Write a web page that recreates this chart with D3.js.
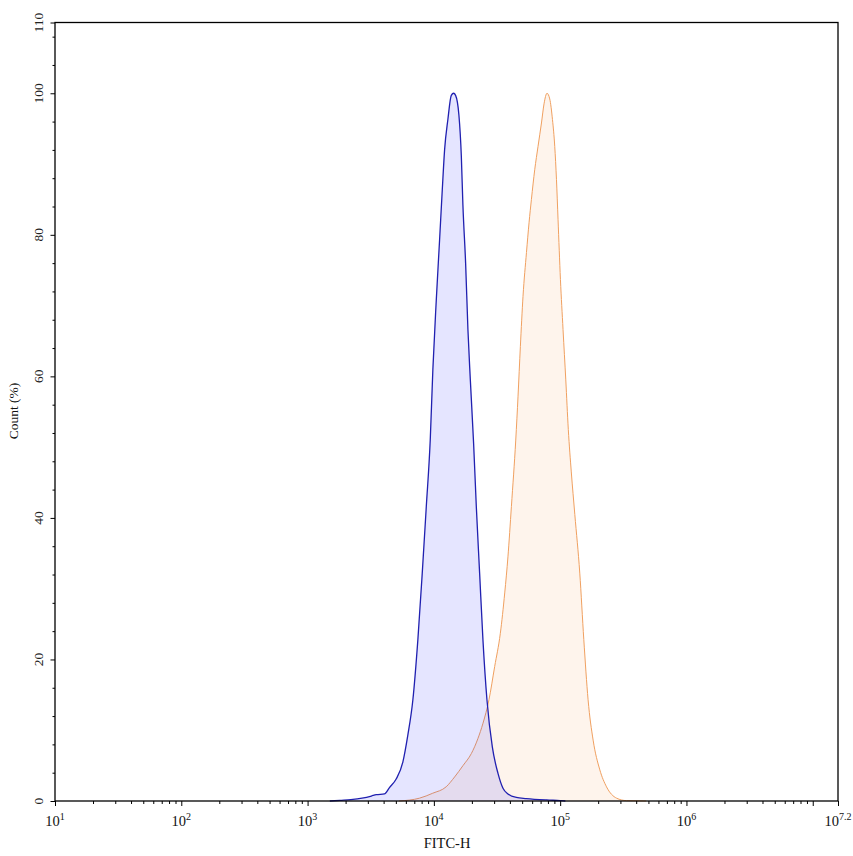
<!DOCTYPE html>
<html>
<head>
<meta charset="utf-8">
<script src="https://cdn.jsdelivr.net/npm/d3@7"></script>
<style>
  body { margin: 0; background: #fff; }
</style>
</head>
<body>
<div id="GRAPH_SVG"></div>
<script>
const WIDTH = 853;
const HEIGHT = 856;

const LEFT = 55;
const RIGHT = 838;
const TOP = 22.5;
const BOTTOM = 801;

// blue sample (FITC-H vs count %)
const blueFitc = [1500, 1800, 2200, 2700, 3200, 3500, 4060, 4450, 5030, 5680, 6220, 6820, 7470, 8090, 8710,
  9360, 9820, 10450, 11100, 11660, 12160, 12910, 13740, 14330, 14860, 15790, 16490, 16980, 17840, 18610,
  19440, 20640, 21680, 23030, 24460, 26320, 29050, 32190, 35260, 38630, 45000, 54000, 78000, 100000, 110000];
const blueCount = [0, 0.1, 0.2, 0.4, 0.7, 0.9, 1.0, 1.9, 3.1, 5.5, 9.3, 14.3, 22.8, 32.2, 41.6,
  51, 61, 70.8, 79.3, 86.4, 92, 96.3, 99.7, 100, 99.7, 96.9, 91.2, 84.2, 76, 66.6,
  59.5, 50.5, 41.6, 32.2, 22.8, 14.3, 7.6, 3.9, 1.8, 1.0, 0.5, 0.35, 0.15, 0.05, 0];

// orange sample
const orangeFitc = [5300, 7700, 9800, 12500, 14600, 17000, 19800, 22300, 24500, 27300, 30300, 33600, 36400,
  38600, 41100, 44500, 46400, 48400, 50800, 54100, 56700, 59200, 62900, 66800, 71100, 74500, 78700,
  82700, 86900, 90600, 93500, 96200, 100500, 105400, 110800, 116000, 122500, 130600, 143000, 153900, 166400,
  182400, 206100, 232900, 279700, 335700, 480000];
const orangeCount = [0, 0.4, 1.1, 2.0, 3.4, 5.0, 6.7, 8.8, 11, 14.3, 19, 23.7, 29.4,
  34.5, 41.6, 51, 57.2, 64.2, 71.3, 77.5, 81.7, 85, 89.2, 92.5, 95.8, 98.5, 100,
  99.2, 96.3, 92.5, 87.8, 82.2, 73.7, 66.6, 59.5, 52.5, 46.5, 40.5, 32.2, 22.8, 14.3,
  8.6, 4.4, 2.0, 0.4, 0.05, 0];

// tick labels
const xTickExps = [1, 2, 3, 4, 5, 6, 7.2];
const yTickValues = [0, 20, 40, 60, 80, 100, 110];

const FONT = "'Liberation Serif', 'Times New Roman', serif";

const svg = d3.select("#GRAPH_SVG")
  .append("svg")
  .attr("width", WIDTH)
  .attr("height", HEIGHT);

const xScale = d3.scaleLog().domain([10, Math.pow(10, 7.2)]).range([LEFT, RIGHT]);
const yScale = d3.scaleLinear().domain([0, 110]).range([BOTTOM, TOP]);

function drawSeries(xs, ys, stroke, fill, fillOpacity, width) {
  const pts = xs.map((x, i) => [x, ys[i]]);
  const area = d3.area()
    .x(d => xScale(d[0]))
    .y0(yScale(0))
    .y1(d => yScale(d[1]))
    .curve(d3.curveMonotoneX);
  const line = d3.line()
    .x(d => xScale(d[0]))
    .y(d => yScale(d[1]))
    .curve(d3.curveMonotoneX);
  svg.append("path")
    .datum(pts)
    .attr("d", area)
    .attr("fill", fill)
    .attr("fill-opacity", fillOpacity);
  svg.append("path")
    .datum(pts)
    .attr("d", line)
    .attr("fill", "none")
    .attr("stroke", stroke)
    .attr("stroke-width", width);
}

drawSeries(orangeFitc, orangeCount, "#f0a060", "#f4a460", 0.12, 1);
drawSeries(blueFitc, blueCount, "#2020b0", "#0000ff", 0.1, 1.3);

// frame
svg.append("rect")
  .attr("x", LEFT)
  .attr("y", TOP)
  .attr("width", RIGHT - LEFT)
  .attr("height", BOTTOM - TOP)
  .attr("fill", "none")
  .attr("stroke", "#000")
  .attr("stroke-width", 1.3);

// x ticks (log decades + minor)
const xMinor = [];
for (let e = 1; e <= 7; e++) {
  for (let m = 2; m <= 9; m++) {
    const v = m * Math.pow(10, e);
    if (v <= Math.pow(10, 7.2)) xMinor.push(v);
  }
}
const xMajor = [1, 2, 3, 4, 5, 6, 7, 7.2].map(e => Math.pow(10, e));

const xAxisMinor = d3.axisBottom(xScale).tickValues(xMinor).tickSize(3).tickFormat("");
const xAxisMajor = d3.axisBottom(xScale).tickValues(xMajor).tickSize(5).tickFormat("");
[xAxisMinor, xAxisMajor].forEach(ax => {
  const g = svg.append("g")
    .attr("transform", "translate(0," + BOTTOM + ")")
    .call(ax);
  g.select(".domain").remove();
  g.selectAll(".tick line").attr("stroke", "#000").attr("stroke-width", 1);
});

// x labels with superscripts
xTickExps.forEach(e => {
  const t = svg.append("text")
    .attr("x", xScale(Math.pow(10, e)))
    .attr("y", 826)
    .attr("text-anchor", "middle")
    .style("font-family", FONT)
    .style("font-size", "14.5px")
    .attr("fill", "#111");
  t.append("tspan").text("10");
  t.append("tspan")
    .attr("dy", -6)
    .style("font-size", "10px")
    .text(String(e));
});

// y ticks
const yMinor = d3.range(4, 110, 4).filter(v => v % 20 !== 0);
const yAxisMinor = d3.axisLeft(yScale).tickValues(yMinor).tickSize(2.5).tickFormat("");
const yAxisMajor = d3.axisLeft(yScale).tickValues(yTickValues).tickSize(4.5).tickFormat("");
[yAxisMinor, yAxisMajor].forEach(ax => {
  const g = svg.append("g")
    .attr("transform", "translate(" + LEFT + ",0)")
    .call(ax);
  g.select(".domain").remove();
  g.selectAll(".tick line").attr("stroke", "#000").attr("stroke-width", 1);
});

yTickValues.forEach(v => {
  svg.append("text")
    .attr("transform", "translate(43," + yScale(v) + ") rotate(-90)")
    .attr("text-anchor", "middle")
    .style("font-family", FONT)
    .style("font-size", "13.5px")
    .attr("fill", "#222")
    .text(v);
});

// axis titles
svg.append("text")
  .attr("x", 447)
  .attr("y", 848)
  .attr("text-anchor", "middle")
  .style("font-family", FONT)
  .style("font-size", "14.5px")
  .attr("fill", "#111")
  .text("FITC-H");

svg.append("text")
  .attr("transform", "translate(18," + 411 + ") rotate(-90)")
  .attr("text-anchor", "middle")
  .style("font-family", FONT)
  .style("font-size", "13.5px")
  .attr("fill", "#111")
  .text("Count  (%)");
</script>
</body>
</html>
